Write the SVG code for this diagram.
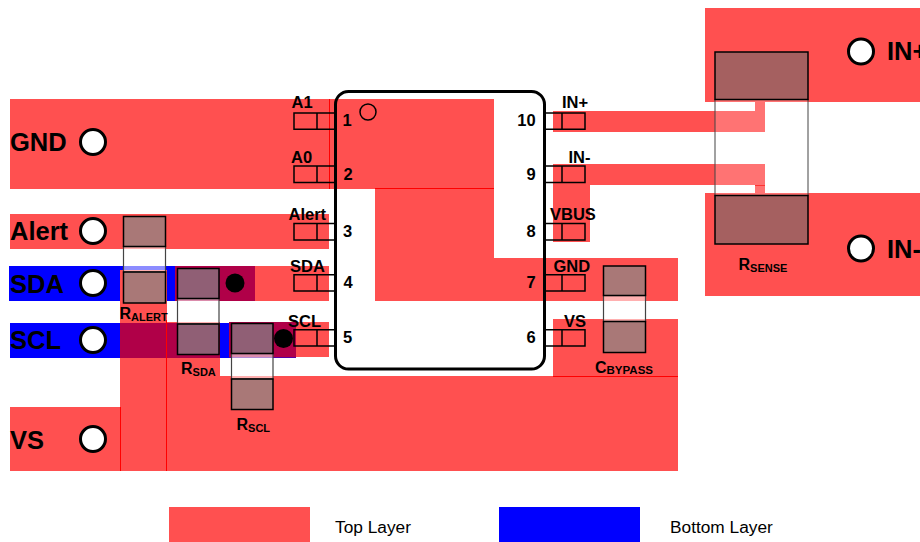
<svg xmlns="http://www.w3.org/2000/svg" width="920" height="542" viewBox="0 0 920 542">
<style>
text{font-family:"Liberation Sans",Arial,sans-serif;font-weight:bold;fill:#000}
.r{fill:#FF5050}.b{fill:#0000FF}.c{fill:#B00048}
.l{stroke:#FF0000;stroke-width:1;fill:none}
.big{font-size:25.5px}.pl{font-size:16.5px}.n{font-size:16.5px}
.m{text-anchor:middle}
.sub{font-size:11px}.des{font-size:16px}
.leg{font-size:17.3px;font-weight:normal}
.hole{fill:#fff;stroke:#000;stroke-width:3}
.pin{fill:none;stroke:#000;stroke-width:1.5}
.body{fill:#fff;fill-opacity:.55;stroke:#444;stroke-width:1.2}
.pad{fill:#808C8A;fill-opacity:.68;stroke:#000;stroke-width:1.5}
.bodyS{fill:#fff;fill-opacity:.2;stroke:#444;stroke-width:1}
.padS{fill:#4B7070;fill-opacity:.5;stroke:#000;stroke-width:1.5}
</style>
<g id="copper">
<path class="r" d="M10 99H494V258H678V301H375V189H329V189H10Z"/>
<rect class="r" x="10" y="214" width="319" height="35"/>
<rect class="b" x="9" y="266" width="166" height="35"/>
<rect class="r" x="120" y="270" width="47" height="52"/>
<rect class="c" x="175" y="266" width="80" height="35"/>
<rect class="r" x="255" y="266" width="74" height="35"/>
<rect class="b" x="10" y="323" width="110" height="35"/>
<path class="r" d="M120 322H220V376H678V471H10V407H120Z"/>
<rect class="c" x="120" y="323" width="100" height="35"/>
<rect class="b" x="220" y="323" width="76" height="35"/>
<rect class="c" x="229" y="322" width="67" height="35.5"/>
<rect class="r" x="296" y="322" width="33" height="35"/>
<rect class="r" x="553" y="111" width="212" height="21"/>
<rect class="r" x="755" y="101" width="10" height="10"/>
<rect class="r" x="553" y="164" width="212" height="21"/>
<rect class="r" x="755" y="185" width="10" height="9"/>
<rect class="r" x="553" y="185" width="37" height="57"/>
<rect class="r" x="553" y="319" width="125" height="57"/>
<rect class="r" x="705" y="8" width="215" height="94"/>
<rect class="r" x="705" y="193" width="215" height="103"/>
<path class="l" d="M329.500 99V189M375 188.500H494M120.500 407V471M166.500 320V471M553 376.500H678M755 185.500H765"/>
</g>
<g id="legend">
<rect class="r" x="169" y="507" width="141" height="35"/>
<rect class="b" x="499" y="507" width="141" height="35"/>
<text class="leg" x="335" y="533">Top Layer</text>
<text class="leg" x="670" y="533">Bottom Layer</text>
</g>
<g id="terminals">
<g id="t-gnd"><circle class="hole" cx="93" cy="142" r="12.500"/><text class="big" x="10" y="151">GND</text></g>
<g id="t-alert"><circle class="hole" cx="93" cy="231" r="12.500"/><text class="big" x="10" y="240">Alert</text></g>
<g id="t-sda"><circle class="hole" cx="93" cy="283" r="12.500"/><text class="big" x="10" y="293">SDA</text></g>
<g id="t-scl"><circle class="hole" cx="93" cy="340" r="12.500"/><text class="big" x="10" y="349">SCL</text></g>
<g id="t-vs"><circle class="hole" cx="93" cy="439" r="12.500"/><text class="big" x="10" y="449">VS</text></g>
<g id="t-inp"><circle class="hole" cx="861" cy="51.500" r="12.500"/><text class="big" x="887" y="60">IN+</text></g>
<g id="t-inm"><circle class="hole" cx="861" cy="248.500" r="12.500"/><text class="big" x="887" y="258">IN-</text></g>
</g>
<g id="vias">
<circle cx="235" cy="283" r="9.500"/>
<circle cx="283.500" cy="338.500" r="9.500"/>
</g>
<g id="chip">
<rect x="335.500" y="91.500" width="209" height="277.500" rx="13" fill="none" stroke="#000" stroke-width="3"/>
<circle cx="368" cy="112" r="8" fill="none" stroke="#000" stroke-width="1.500"/>
</g>
<g id="pins">
<path class="pin" d="M335 113H294V129.300H335M317 113V129.300M335 166H294V182.500H335M317 166V182.500M335 223.500H294V240H335M317 223.500V240M335 274.700H294V291H335M317 274.700V291M335 329.700H294V346H335M317 329.700V346"/>
<path class="pin" d="M545 113H585V129.300H545M562 113V129.300M545 166H585V182.500H545M562 166V182.500M545 223.500H585V240H545M562 223.500V240M545 274.700H585V291H545M562 274.700V291M545 329.700H585V346H545M562 329.700V346"/>
<text class="pl" x="291.500" y="108">A1</text>
<text class="pl" x="291" y="163">A0</text>
<text class="pl" x="288.500" y="220">Alert</text>
<text class="pl" x="290" y="271.500">SDA</text>
<text class="pl" x="288" y="327">SCL</text>
<text class="pl" x="562" y="108">IN+</text>
<text class="pl" x="568.500" y="163">IN-</text>
<text class="pl" x="550" y="220">VBUS</text>
<text class="pl" x="553.500" y="271.500">GND</text>
<text class="pl" x="564" y="327">VS</text>
<text class="n m" x="347" y="126">1</text>
<text class="n m" x="348" y="180">2</text>
<text class="n m" x="347.500" y="237">3</text>
<text class="n m" x="348" y="288">4</text>
<text class="n m" x="347.500" y="343">5</text>
<text class="n m" x="526.500" y="126">10</text>
<text class="n m" x="531" y="180">9</text>
<text class="n m" x="531" y="237">8</text>
<text class="n m" x="531" y="288">7</text>
<text class="n m" x="531" y="343">6</text>
</g>
<g id="r-alert">
<rect class="body" x="123.500" y="246.500" width="42" height="25.500"/>
<rect class="pad" x="123.500" y="216.500" width="42" height="30"/>
<rect class="pad" x="123.500" y="272" width="42" height="31"/>
<text class="des" x="119.500" y="319">R<tspan class="sub" dy="1.500">ALERT</tspan></text>
</g>
<g id="r-sda">
<rect class="body" x="177.500" y="298.500" width="41.500" height="25.500"/>
<rect class="pad" x="177.500" y="268.500" width="41.500" height="30"/>
<rect class="pad" x="177.500" y="324" width="41.500" height="30.500"/>
<text class="des" x="181" y="374">R<tspan class="sub" dy="1.500">SDA</tspan></text>
</g>
<g id="r-scl">
<rect class="body" x="231.500" y="353.500" width="41.500" height="25.500"/>
<rect class="pad" x="231.500" y="323.500" width="41.500" height="30"/>
<rect class="pad" x="231.500" y="379" width="41.500" height="30.500"/>
<text class="des" x="236.500" y="430">R<tspan class="sub" dy="1.500">SCL</tspan></text>
</g>
<g id="c-bypass">
<rect class="body" x="603.500" y="295.500" width="42" height="26"/>
<rect class="pad" x="603.500" y="266" width="42" height="29.500"/>
<rect class="pad" x="603.500" y="321.500" width="42" height="31"/>
<text class="des" x="595" y="372.500">C<tspan class="sub" style="font-size:11.5px" dy="1.500">BYPASS</tspan></text>
</g>
<g id="r-sense">
<rect class="bodyS" x="715" y="99.500" width="93" height="96"/>
<rect class="padS" x="715" y="52" width="93" height="47.500"/>
<rect class="padS" x="715" y="195.500" width="93" height="48.500"/>
<text class="des" x="738.500" y="270">R<tspan class="sub" dy="1.500">SENSE</tspan></text>
</g>
</svg>
